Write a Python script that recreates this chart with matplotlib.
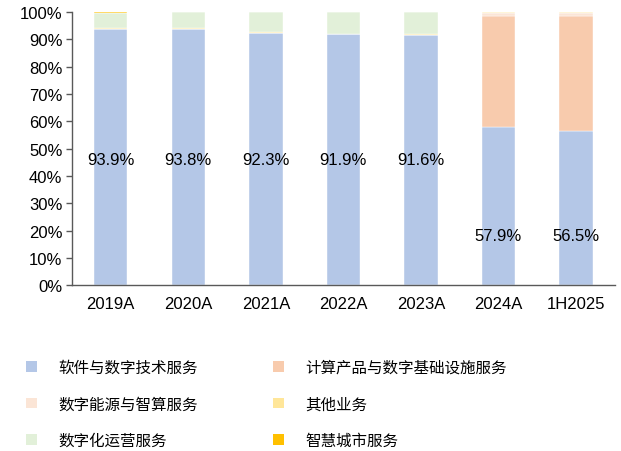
import matplotlib.pyplot as plt
import numpy as np
from matplotlib.patches import Patch

plt.rcParams['font.family'] = ['Liberation Sans', 'Noto Sans CJK SC', 'DejaVu Sans']

years = ['2019A', '2020A', '2021A', '2022A', '2023A', '2024A', '1H2025']

# shares in %, bottom to top
software = [93.9, 93.8, 92.3, 91.9, 91.6, 57.9, 56.5]
compute = [0, 0, 0, 0, 0, 40.7, 42.1]
energy = [0, 0, 0, 0, 0, 0.9, 0.9]
other = [0.3, 0.3, 0.4, 0.2, 0.2, 0.5, 0.5]
operations = [5.4, 5.9, 7.3, 7.9, 8.2, 0, 0]
smart_city = [0.4, 0, 0, 0, 0, 0, 0]

label_y = [46, 46, 46, 46, 46, 18, 18]

names = ['软件与数字技术服务', '计算产品与数字基础设施服务', '数字能源与智算服务',
         '其他业务', '数字化运营服务', '智慧城市服务']
colors = ['#b4c7e7', '#f8cbad', '#fbe5d6', '#ffe699', '#e2f0d9', '#ffc000']
series = [software, compute, energy, other, operations, smart_city]

fig = plt.figure(figsize=(6.21, 4.52), dpi=100)
ax = fig.add_axes([0.116, 0.367, 0.874, 0.604])

x = np.arange(len(years))
bottom = np.zeros(len(years))
for vals, c in zip(series, colors):
    vals = np.array(vals) / 100
    ax.bar(x, vals, 0.43, bottom=bottom, color=c, edgecolor='white', linewidth=0.3)
    bottom += vals

for i, v in enumerate(software):
    ax.text(x[i], label_y[i] / 100, '%.1f%%' % v, ha='center', va='center', fontsize=12)

ax.set_xlim(-0.5, len(years) - 0.5)
ax.set_ylim(0, 1)
ax.set_yticks(np.arange(0, 1.01, 0.1))
ax.set_yticklabels(['%d%%' % (t * 10) for t in range(11)], fontsize=12)
ax.set_xticks(x)
ax.set_xticklabels(years, fontsize=12)
ax.tick_params(axis='x', length=0, pad=8)
ax.tick_params(axis='y', length=4, width=1, color='#595959', direction='out', pad=3)
for s in ['top', 'right']:
    ax.spines[s].set_visible(False)
ax.spines['left'].set_color('#595959')
ax.spines['bottom'].set_color('#595959')
ax.spines['left'].set_linewidth(1)
ax.spines['bottom'].set_linewidth(1)

# legend filled column-wise, so reorder for row reading
order = [0, 2, 4, 1, 3, 5]
handles = [Patch(facecolor=colors[i], edgecolor='none') for i in order]
labels = [names[i] for i in order]
fig.legend(handles, labels, loc='upper left', bbox_to_anchor=(26 / 621, 1 - 360 / 452), ncol=2,
           frameon=False, prop={'family': ['Noto Sans CJK SC'], 'size': 11.2},
           borderpad=0, borderaxespad=0,
           handlelength=0.7, handleheight=0.7, handletextpad=1.4,
           columnspacing=4.8, labelspacing=1.25)

fig.savefig('out.png', dpi=100)
